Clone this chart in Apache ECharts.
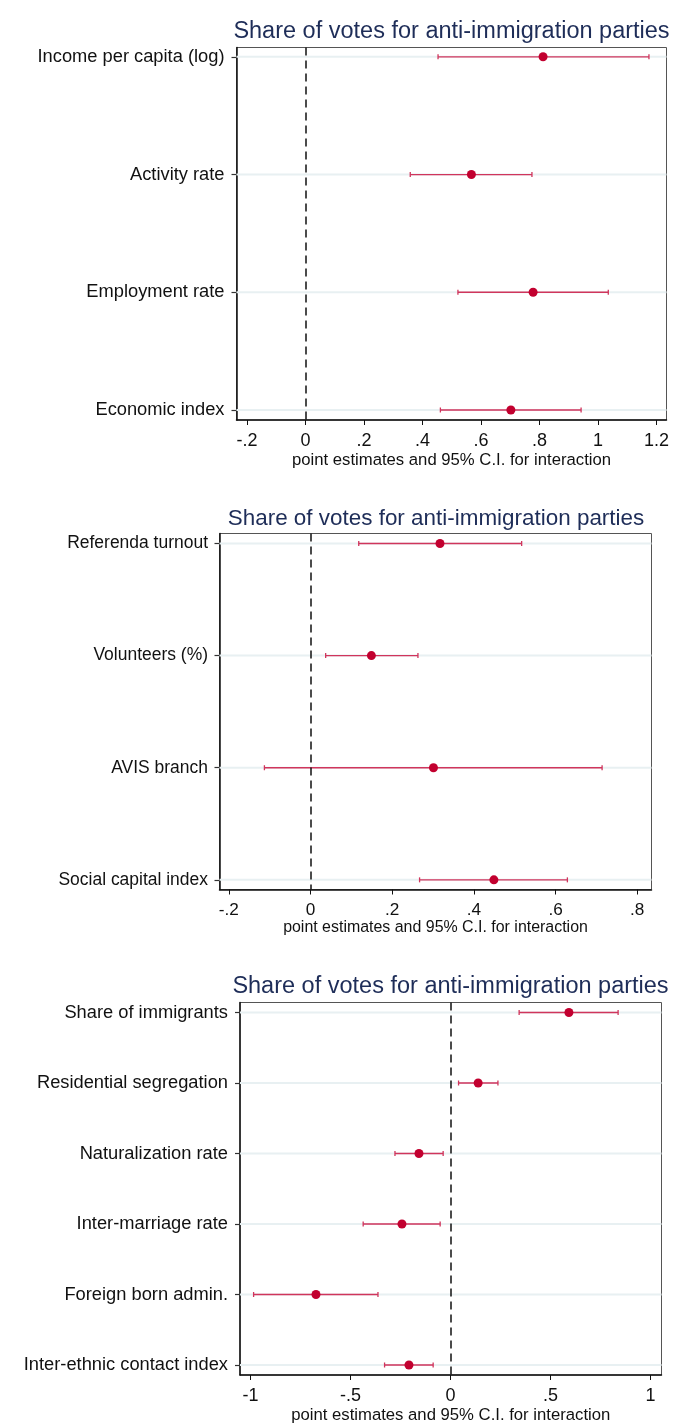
<!DOCTYPE html>
<html>
<head>
<meta charset="utf-8">
<script src="https://cdn.jsdelivr.net/npm/echarts@6/dist/echarts.min.js"></script>
<style>
html,body{margin:0;padding:0;background:#fff;}
#c{width:676px;height:1427px;}
</style>
</head>
<body>
<div id="c"></div>
<script>
const titleText = 'Share of votes for anti-immigration parties';
const xAxisTitle = 'point estimates and 95% C.I. for interaction';

const p1Labels = ['Income per capita (log)', 'Activity rate', 'Employment rate', 'Economic index'];
const p1Est = [0.812, 0.567, 0.778, 0.702];
const p1Lo = [0.453, 0.358, 0.521, 0.461];
const p1Hi = [1.174, 0.774, 1.035, 0.942];
const p1Ticks = [-0.2, 0, 0.2, 0.4, 0.6, 0.8, 1, 1.2];

const p2Labels = ['Referenda turnout', 'Volunteers (%)', 'AVIS branch', 'Social capital index'];
const p2Est = [0.317, 0.149, 0.301, 0.449];
const p2Lo = [0.118, 0.037, -0.113, 0.267];
const p2Hi = [0.517, 0.263, 0.714, 0.629];
const p2Ticks = [-0.2, 0, 0.2, 0.4, 0.6, 0.8];

const p3Labels = ['Share of immigrants', 'Residential segregation', 'Naturalization rate', 'Inter-marriage rate', 'Foreign born admin.', 'Inter-ethnic contact index'];
const p3Est = [0.592, 0.138, -0.158, -0.243, -0.673, -0.208];
const p3Lo = [0.343, 0.040, -0.278, -0.437, -0.985, -0.330];
const p3Hi = [0.838, 0.237, -0.037, -0.052, -0.363, -0.087];
const p3Ticks = [-1, -0.5, 0, 0.5, 1];

const FONT = '"Liberation Sans", Arial, Helvetica, sans-serif';
const DOT = '#c2002f';
const BAR = '#d0355c';
const GRIDLINE = '#e8f0f2';

const panels = [
  {labels: p1Labels, est: p1Est, lo: p1Lo, hi: p1Hi, ticks: p1Ticks,
   grid: {left: 236.5, top: 47.5, width: 430, height: 372.5},
   xmin: -0.236, xmax: 1.234, padTop: 0.079, padBot: 0.085, titleY: 32, titleX: 451.5,
   fs: 1, yMargin: 12, nameGap: 29.5},
  {labels: p2Labels, est: p2Est, lo: p2Lo, hi: p2Hi, ticks: p2Ticks,
   grid: {left: 219.5, top: 533.5, width: 432, height: 356},
   xmin: -0.223, xmax: 0.835, padTop: 0.089, padBot: 0.086, titleY: 519, titleX: 436,
   fs: 0.955, yMargin: 11.5, nameGap: 28},
  {labels: p3Labels, est: p3Est, lo: p3Lo, hi: p3Hi, ticks: p3Ticks,
   grid: {left: 240, top: 1002.5, width: 421.5, height: 372.5},
   xmin: -1.053, xmax: 1.055, padTop: 0.142, padBot: 0.142, titleY: 987, titleX: 450.5,
   fs: 1, yMargin: 12, nameGap: 29.5}
];

function fmtX(v) {
  let s = String(Number(v.toFixed(3)));
  return s.replace(/^(-?)0\./, '$1.');
}

const grids = [], xAxes = [], yAxes = [], series = [], graphics = [];
panels.forEach((p, i) => {
  grids.push(Object.assign({show: true, borderColor: '#555', borderWidth: 1, backgroundColor: '#fff'}, p.grid));
  const idx = p.labels.map((_, k) => k);
  xAxes.push({
    type: 'value', gridIndex: i, min: p.xmin, max: p.xmax,
    axisLine: {show: true, onZero: false, lineStyle: {color: '#111', width: 1.5}},
    axisTick: {show: true, customValues: p.ticks, length: 5, lineStyle: {color: '#111', width: 1}},
    axisLabel: {customValues: p.ticks, formatter: fmtX, color: '#111', fontSize: 18 * p.fs, fontFamily: FONT, margin: 12.5},
    splitLine: {show: false},
    name: xAxisTitle, nameLocation: 'middle', nameGap: p.nameGap,
    nameTextStyle: {color: '#111', fontSize: 16.7 * p.fs, fontFamily: FONT}
  });
  yAxes.push({
    type: 'value', gridIndex: i, inverse: true,
    min: -p.padTop, max: p.labels.length - 1 + p.padBot,
    axisLine: {show: true, onZero: false, lineStyle: {color: '#111', width: 1.5}},
    axisTick: {show: true, customValues: idx, length: 5, lineStyle: {color: '#333', width: 1.2}},
    axisLabel: {customValues: idx, formatter: v => p.labels[Math.round(v)], color: '#111', fontSize: 18.3 * p.fs, fontFamily: FONT, margin: p.yMargin},
    splitLine: {show: false}
  });
  const ciData = p.labels.map((_, k) => [p.lo[k], p.hi[k], k]);
  series.push({
    type: 'custom', xAxisIndex: i, yAxisIndex: i, z: 1, silent: true,
    data: ciData,
    renderItem: function (params, api) {
      const cs = params.coordSys;
      const a = api.coord([api.value(0), api.value(2)]);
      const b = api.coord([api.value(1), api.value(2)]);
      const y = a[1];
      const st = {stroke: BAR, lineWidth: 1.3};
      return {type: 'group', children: [
        {type: 'line', shape: {x1: cs.x, y1: y, x2: cs.x + cs.width, y2: y}, style: {stroke: GRIDLINE, lineWidth: 2}},
        {type: 'line', shape: {x1: a[0], y1: y, x2: b[0], y2: y}, style: st},
        {type: 'line', shape: {x1: a[0], y1: y - 2.5, x2: a[0], y2: y + 2.5}, style: st},
        {type: 'line', shape: {x1: b[0], y1: y - 2.5, x2: b[0], y2: y + 2.5}, style: st}
      ]};
    }
  });
  series.push({
    type: 'scatter', xAxisIndex: i, yAxisIndex: i, z: 3, silent: true,
    symbol: 'circle', symbolSize: 9,
    itemStyle: {color: DOT, opacity: 1},
    data: p.labels.map((_, k) => [p.est[k], k]),
    markLine: {
      silent: true, symbol: 'none', z: 2,
      lineStyle: {color: '#111', type: [8, 5], width: 1.5, opacity: 1},
      label: {show: false},
      emphasis: {disabled: true},
      data: [{xAxis: 0}]
    }
  });
  graphics.push({
    type: 'text', x: p.titleX, y: p.titleY,
    style: {text: titleText, align: 'center', verticalAlign: 'middle', fill: '#1e2d58', font: (23.5 * p.fs) + 'px ' + FONT}
  });
});

const chart = echarts.init(document.getElementById('c'), null, {renderer: 'canvas'});
chart.setOption({
  animation: false,
  backgroundColor: '#fff',
  grid: grids, xAxis: xAxes, yAxis: yAxes, series: series,
  graphic: graphics
});
</script>
</body>
</html>
